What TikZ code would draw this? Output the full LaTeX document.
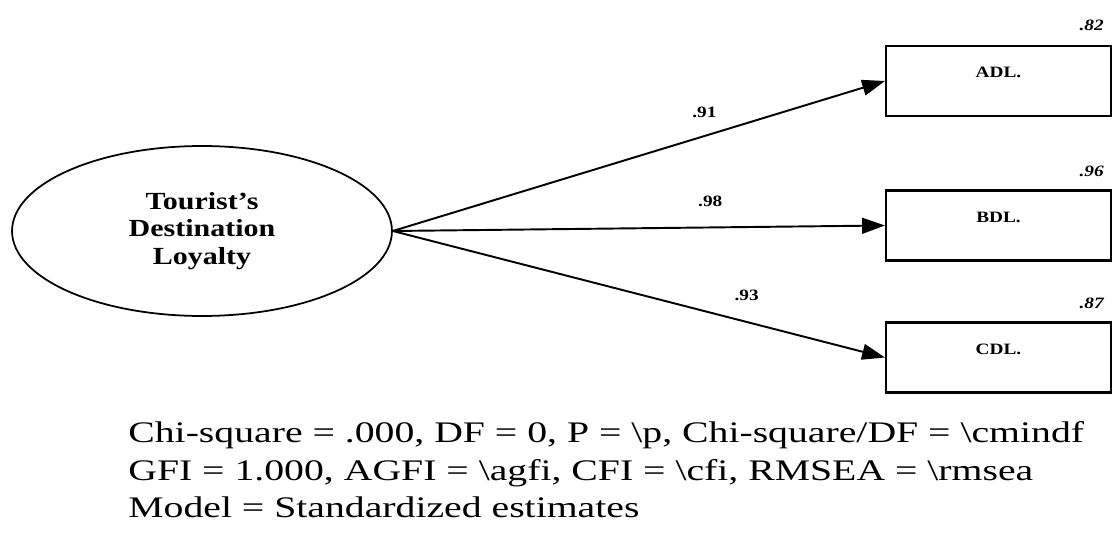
\documentclass[tikz,border=0pt]{standalone}
\usepackage{fontspec}
\setmainfont[FakeStretch=1.22]{Liberation Serif}
\newfontfamily\fitfont[FakeStretch=1.33]{Liberation Serif}
\usetikzlibrary{arrows.meta, positioning, shapes.geometric}

\begin{document}
\begin{tikzpicture}[
  x=0.02cm, y=0.02cm,
  node distance=0.3cm and 0.2cm,
  latent/.style={ellipse, draw, line width=1pt, minimum width=7.6cm,
                 minimum height=3.4cm, inner sep=0pt, align=center,
                 font=\fontsize{14}{15.5}\selectfont\bfseries},
  obsbox/.style={rectangle, draw, line width=1.2pt, minimum width=4.5cm,
                 minimum height=1.4cm, text height=0.2cm, text depth=0.32cm,
                 font=\fontsize{9}{10}\selectfont\bfseries},
  loading/.style={font=\fontsize{9}{10}\selectfont\bfseries, inner sep=0pt},
  rsq/.style={font=\fontsize{9}{10}\selectfont\bfseries\itshape, inner sep=0pt},
  fitnote/.style={font=\fitfont\fontsize{17}{21.5}\selectfont, align=left, inner sep=0pt},
  arr/.style={-{Triangle[length=13pt, width=9pt]}, line width=1.1pt},
]
\useasboundingbox (0,0) rectangle (1113,552);
\node[latent] (tdl) at (202,321) {Tourist's\\Destination\\Loyalty};
\node[obsbox] (adl) at (998.5,471) {ADL.};
\node[obsbox] (bdl) at (998.5,326.5) {BDL.};
\node[obsbox] (cdl) at (998.5,194.5) {CDL.};
% squared multiple correlations
\node[rsq, above left=0.28cm and 0.16cm of adl.north east] (r2adl) {.82};
\node[rsq, above left=0.24cm and 0.16cm of bdl.north east] (r2bdl) {.96};
\node[rsq, above left=0.24cm and 0.16cm of cdl.north east] (r2cdl) {.87};
% standardized loadings
\draw[arr] (tdl.east) -- node[loading, pos=0.633, above=0.34cm] {.91} (adl.west);
\draw[arr] (tdl.east) -- node[loading, pos=0.645, above=0.4cm] {.98} (bdl.west);
\draw[arr] (tdl.east) -- node[loading, pos=0.719, above=0.4cm] {.93} (cdl.west);
\node[fitnote, anchor=north west] (fit) at (128,131)
  {Chi-square = .000, DF = 0, P = \textbackslash p, Chi-square/DF = \textbackslash cmindf\\
   GFI = 1.000, AGFI = \textbackslash agfi, CFI = \textbackslash cfi, RMSEA = \textbackslash rmsea\\
   Model = Standardized estimates};
\end{tikzpicture}
\end{document}
